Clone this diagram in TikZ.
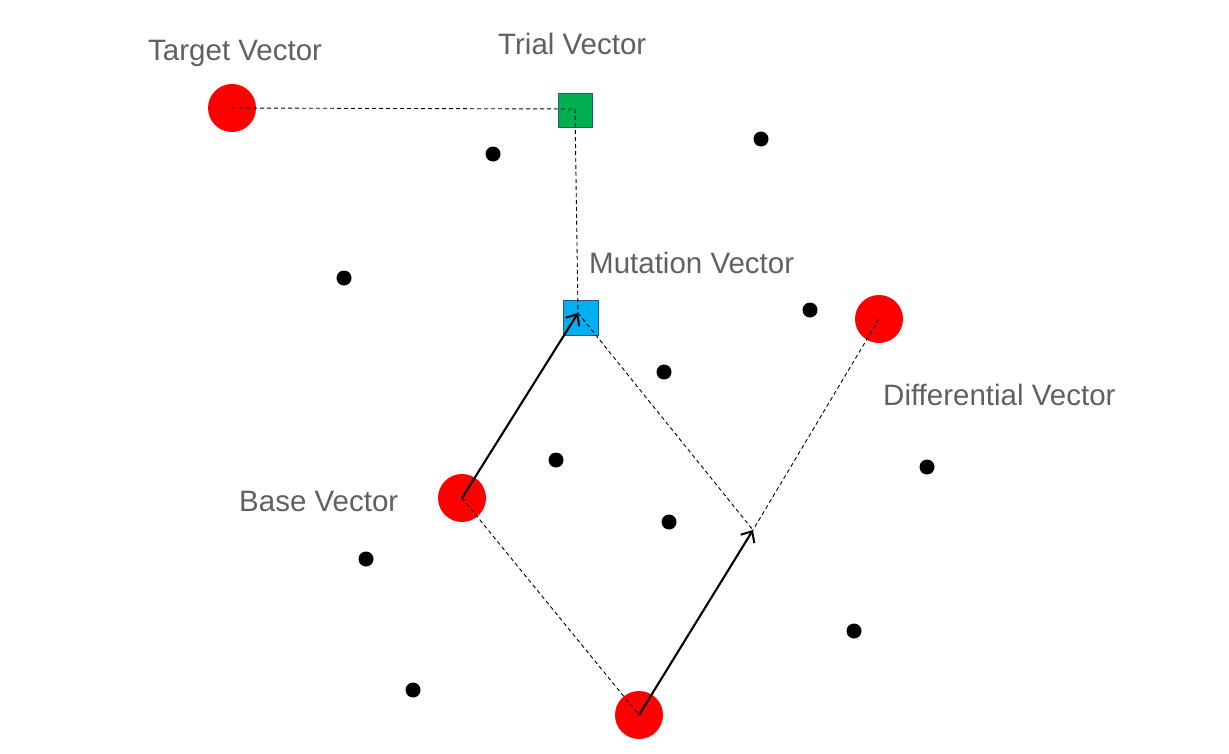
\documentclass[tikz,border=0pt]{standalone}
\usepackage{fontspec}
\setmainfont{Liberation Sans}
\usetikzlibrary{arrows.meta}
\definecolor{redv}{HTML}{FF0000}
\definecolor{greenv}{HTML}{00B050}
\definecolor{bluev}{HTML}{00B0F0}
\definecolor{edgev}{HTML}{2F528F}
\definecolor{textv}{HTML}{606060}
\tikzset{
  bigdot/.style={circle,fill=redv,draw=none,minimum size=48pt,inner sep=0pt},
  smalldot/.style={circle,fill=black,draw=none,minimum size=15pt,inner sep=0pt},
  sqbox/.style={rectangle,draw=edgev,line width=0.8pt,minimum size=34pt,inner sep=0pt},
  lbl/.style={anchor=base west,inner sep=0pt,text=textv,font=\fontsize{29.5}{35}\selectfont},
  dline/.style={draw=black,line width=0.9pt,dash pattern=on 4pt off 3pt},
  arr/.style={draw=black,line width=2.1pt,-{Straight Barb[length=9pt,width=16pt,line width=2pt]}}
}
\begin{document}
\begin{tikzpicture}[x=1pt,y=-1pt]
\useasboundingbox (0,0) rectangle (1229,753);
% labels
\node[lbl] (ltarget) at (148,60) {Target Vector};
\node[lbl] (ltrial) at (498,54) {Trial Vector};
\node[lbl] (lmut) at (589,273) {Mutation Vector};
\node[lbl] (ldiff) at (883,405) {Differential Vector};
\node[lbl] (lbase) at (239,511.5) {Base Vector};
% red vectors
\node[bigdot] (target) at (232,108) {};
\node[bigdot] (base) at (462,498) {};
\node[bigdot] (bottom) at (639,715) {};
\node[bigdot] (diff) at (879,319) {};
% squares
\node[sqbox,fill=greenv] (trial) at (575,110) {};
\node[sqbox,fill=bluev,minimum size=35pt] (mut) at (581,318) {};
% population dots
\node[smalldot] (d1) at (493,154) {};
\node[smalldot] (d2) at (761,139) {};
\node[smalldot] (d3) at (344,278) {};
\node[smalldot] (d4) at (810,310) {};
\node[smalldot] (d5) at (664,372) {};
\node[smalldot] (d6) at (556,460) {};
\node[smalldot] (d7) at (927,467) {};
\node[smalldot] (d8) at (669,522) {};
\node[smalldot] (d9) at (366,559) {};
\node[smalldot] (d10) at (854,631) {};
\node[smalldot] (d11) at (413,690) {};
% helper coordinates
\coordinate (tc) at (575,109);
\coordinate (mp) at (578,313);
\coordinate (pp) at (753,530);
% dashed construction lines
\draw[dline] (target.center) -- (tc) -- (mp);
\draw[dline] (mp) -- (pp);
\draw[dline] (diff.center) -- (pp);
\draw[dline] (base.center) -- (bottom.center);
% arrows
\draw[arr] (base.center) -- (mp);
\draw[arr] (bottom.center) -- (pp);
\end{tikzpicture}
\end{document}
